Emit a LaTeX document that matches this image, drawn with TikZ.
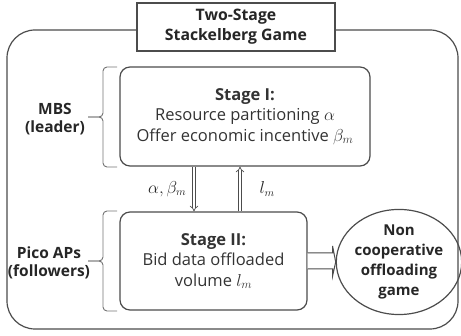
\documentclass[tikz,border=0pt]{standalone}
\usepackage{fontspec}
\setmainfont{Open Sans}
\usetikzlibrary{arrows.meta,shapes.geometric,calc,positioning}

\begin{document}
\begin{tikzpicture}[x=1pt, y=1pt,
        outer/.style={draw=black!70, line width=1.2pt, rounded corners=28pt},
        stage/.style={rectangle, rounded corners=10pt, draw=black!70, line width=1.2pt, inner sep=0pt, align=center, font=\fontsize{16.5}{20.5}\selectfont, text=black!80},
        title/.style={rectangle, draw=black!70, line width=1.2pt, fill=white, inner sep=0pt, align=center, font=\fontsize{15.8}{20}\selectfont\bfseries, text=black!85, minimum width=198pt, minimum height=48pt},
        role/.style={align=center, font=\fontsize{15.5}{18}\selectfont\bfseries, text=black!85},
        game/.style={ellipse, draw=black!70, line width=1.2pt, inner sep=0pt, minimum width=112pt, minimum height=104pt, align=center, font=\fontsize{15}{20}\selectfont\bfseries, text=black!85},
        bracepath/.style={draw=black!55, line width=0.9pt, rounded corners=4pt},
        dblarrow/.style={draw=black!70, line width=0.7pt, double=white, double distance=2.2pt, -{Implies}},
        bigarrow/.style={draw=black!70, line width=1pt, fill=white, line join=miter},
        lbl/.style={font=\fontsize{16}{18}\selectfont, text=black!85}
    ]
        \useasboundingbox (0,0) rectangle (461,-336);

        % Outer frame and title
        \draw[outer] (7,-30) rectangle (458,-329);
        \node[title] (head) at (236,-27) {Two-Stage\\Stackelberg Game};

        % Stages
        \node[stage, minimum width=250pt, minimum height=99pt] (s1) at (245,-116.5) {{\bfseries Stage I:}\\Resource partitioning $\alpha$\\Offer economic incentive $\beta_m$};
        \node[stage, minimum width=187pt, minimum height=98pt] (s2) at (213.5,-261) {{\bfseries Stage II:}\\Bid data offloaded\\volume $l_m$};
        \node[game] (ncg) at (399,-262) {Non\\cooperative\\offloading\\game};

        % Players
        \node[role] (mbs) at (55,-119) {MBS\\(leader)};
        \node[role] (pico) at (49,-263) {Pico APs\\(followers)};
        \foreach \t/\b in {-67/-167, -211/-311} {
            \draw[bracepath] (117,\t) -- (103,\t) -- (103,{(\t+\b)/2}) -- (88,{(\t+\b)/2});
            \draw[bracepath] (117,\b) -- (103,\b) -- (103,{(\t+\b)/2}) -- (88,{(\t+\b)/2});
        }

        % Exchanges between stages
        \coordinate (dn) at ([xshift=-19.5pt]s2.north);
        \coordinate (up) at ([xshift=26.5pt]s2.north);
        \draw[dblarrow] (dn |- s1.south) -- node[lbl, left=4pt] {$\alpha,\beta_m$} (dn);
        \draw[dblarrow] (up) -- node[lbl, right=16pt] {$l_m$} (up |- s1.south);

        % Stage II feeds the non-cooperative game
        \draw[bigarrow] ([yshift=8pt]s2.east) -- ++(25,0) -- ++(0,7) -- (ncg.west) -- ([shift={(25pt,-15pt)}]s2.east) -- ++(0,7) -- ([yshift=-8pt]s2.east);
    \end{tikzpicture}
\end{document}
